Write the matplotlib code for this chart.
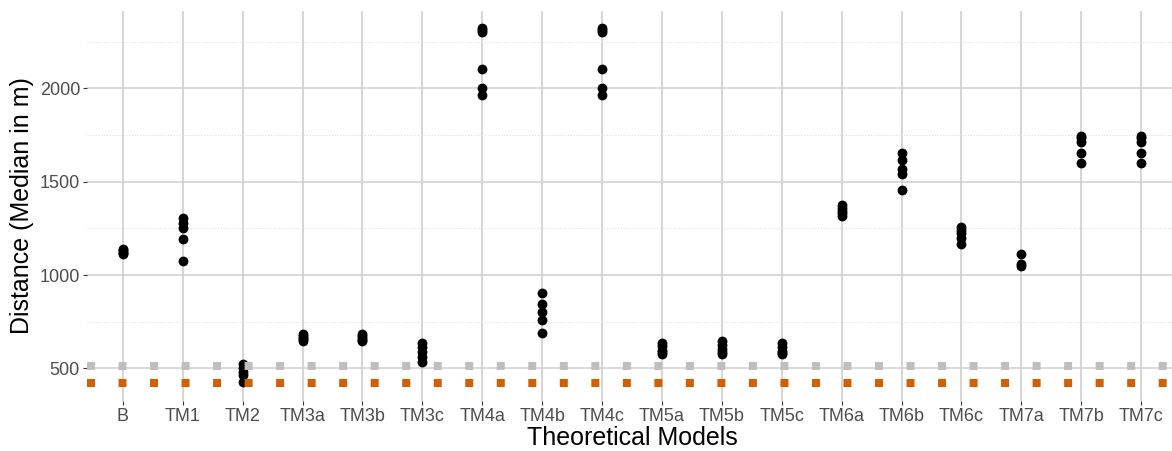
import matplotlib
matplotlib.use("Agg")
import matplotlib.pyplot as plt

plt.rcParams['font.family'] = ['Liberation Sans', 'DejaVu Sans']

models = ["B", "TM1", "TM2", "TM3a", "TM3b", "TM3c", "TM4a", "TM4b", "TM4c",
          "TM5a", "TM5b", "TM5c", "TM6a", "TM6b", "TM6c", "TM7a", "TM7b", "TM7c"]

dist_B = [1140, 1132, 1125, 1118, 1112]
dist_TM1 = [1304, 1277, 1250, 1193, 1074]
dist_TM2 = [522, 500, 482, 465, 428]
dist_TM3a = [686, 675, 665, 655, 645]
dist_TM3b = [686, 672, 660, 650, 645]
dist_TM3c = [636, 612, 588, 560, 536]
dist_TM4a = [2324, 2314, 2305, 2107, 2001, 1965]
dist_TM4b = [902, 843, 803, 760, 688]
dist_TM4c = [2324, 2314, 2305, 2107, 2001, 1965]
dist_TM5a = [636, 620, 600, 585, 577]
dist_TM5b = [645, 625, 605, 590, 579]
dist_TM5c = [636, 612, 592, 582, 576]
dist_TM6a = [1378, 1362, 1346, 1331, 1319]
dist_TM6b = [1653, 1617, 1567, 1540, 1456]
dist_TM6c = [1255, 1240, 1224, 1200, 1166]
dist_TM7a = [1113, 1060, 1048]
dist_TM7b = [1747, 1733, 1715, 1656, 1599]
dist_TM7c = [1747, 1733, 1715, 1656, 1599]

all_dists = [dist_B, dist_TM1, dist_TM2, dist_TM3a, dist_TM3b, dist_TM3c,
             dist_TM4a, dist_TM4b, dist_TM4c, dist_TM5a, dist_TM5b, dist_TM5c,
             dist_TM6a, dist_TM6b, dist_TM6c, dist_TM7a, dist_TM7b, dist_TM7c]

# Referenzlinien
ref_grey = 515
ref_orange = 420

fig = plt.figure(figsize=(11.72, 4.51), dpi=100)
ax = fig.add_axes([87 / 1172, 50 / 451, 1090 / 1172, 390.5 / 451])

for i, vals in enumerate(all_dists):
    ax.scatter([i + 1] * len(vals), vals, s=50, color="black", linewidths=0, zorder=3)

ax.axhline(ref_grey, color="#BEBEBE", lw=5.76, linestyle=(0, (1, 2.94)), zorder=4)
ax.axhline(ref_orange, color="#D55E00", lw=5.76, linestyle=(0, (1, 2.94)), zorder=4)

ax.set_xlim(0.4, 18.6)
ax.set_ylim(325, 2418)
ax.set_xticks(range(1, len(models) + 1))
ax.set_xticklabels(models)
ax.set_yticks([500, 1000, 1500, 2000])
ax.set_yticks([750, 1250, 1750, 2250], minor=True)

ax.grid(axis="y", which="major", color="#D0D0D0", lw=1.1, zorder=0)
ax.grid(axis="y", which="minor", color="#E0E0E0", lw=0.8, linestyle=(0, (1, 1.5)), zorder=0)
ax.grid(axis="x", which="major", color="#CACACA", lw=1.1, zorder=0)
ax.set_axisbelow(True)

for sp in ax.spines.values():
    sp.set_visible(False)

ax.tick_params(axis="both", which="major", length=3, width=0.8, color="#333333",
               labelsize=13, labelcolor="#4D4D4D", pad=2)
ax.tick_params(axis="y", which="minor", length=0)

ax.set_xlabel("Theoretical Models", fontsize=18, color="black", va="center")
ax.xaxis.set_label_coords(0.5, -0.0947)
ax.set_ylabel("Distance (Median in m)", fontsize=18, color="black", va="center", ha="center")
ax.yaxis.set_label_coords(-0.0596, 0.5)

fig.savefig("out.png", dpi=100)
